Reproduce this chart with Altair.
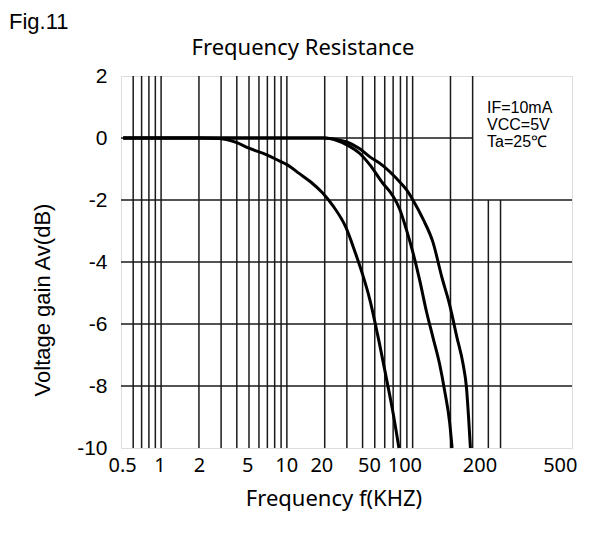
import altair as alt
import pandas as pd

# ---- curve data (frequency kHz, voltage gain dB) ----
freq_a = [0.5, 1, 2, 2.9, 4, 5, 7, 8.7, 10, 12.6, 15.5, 19.1, 23.2, 29.6, 35, 40, 45.4, 54.6, 61.7, 69.7, 77.8]
gain_a = [0, 0, 0, -0.02, -0.15, -0.33, -0.55, -0.74, -0.86, -1.15, -1.42, -1.76, -2.18, -2.9, -3.7, -4.4, -5.17, -6.65, -7.73, -8.84, -10]

freq_b = [0.5, 20, 25, 30, 38, 45.4, 58, 69.7, 78.8, 89, 100.5, 114, 128.5, 145, 164, 180, 197, 206]
gain_b = [0, 0, -0.08, -0.22, -0.5, -0.85, -1.46, -1.87, -2.29, -2.94, -3.69, -4.6, -5.58, -6.43, -7.3, -8.17, -9.18, -10]

freq_c = [0.5, 20, 25, 30, 38, 45.4, 58, 74.2, 89, 100.5, 120.8, 145, 171, 197, 225, 252, 268, 279, 288]
gain_c = [0, 0, -0.05, -0.13, -0.35, -0.6, -0.89, -1.30, -1.66, -2.0, -2.61, -3.36, -4.5, -5.38, -6.43, -7.3, -8.05, -9.06, -10]

# ---- axis tick labels (as printed on the figure) ----
x_label_text = ["0.5", "1", "2", "5", "10", "20", "50", "100", "200", "500"]
x_label_pos = [0.49, 0.97, 2.0, 4.85, 9.9, 18.8, 45, 86, 340, 1480]
y_ticks = [-10, -8, -6, -4, -2, 0, 2]

# ---- grid lines ----
v_grid_full = [0.6, 0.7, 0.8, 0.9, 1, 2, 3, 4, 5, 6, 7, 8, 9,
               10, 20, 30, 40, 50, 60, 70, 80, 90, 100, 200, 300]
v_grid_low = [400, 500]
h_grid_full = [-2, -4, -6, -8]
h_grid_zero_end = 300

X_MIN, X_MAX = 0.48, 1850
Y_MIN, Y_MAX = -10, 2

xs = alt.Scale(type="log", domain=[X_MIN, X_MAX], nice=False, zero=False)
ys = alt.Scale(domain=[Y_MIN, Y_MAX], nice=False, zero=False)

rows = []
for f, g in zip(freq_a, gain_a):
    rows.append({"f": f, "g": g, "s": "A"})
for f, g in zip(freq_b, gain_b):
    rows.append({"f": f, "g": g, "s": "B"})
for f, g in zip(freq_c, gain_c):
    rows.append({"f": f, "g": g, "s": "C"})
curves_df = pd.DataFrame(rows)

vrows = [{"f": v, "g": Y_MIN, "y2": Y_MAX} for v in v_grid_full] + \
        [{"f": v, "g": Y_MIN, "y2": -2} for v in v_grid_low]
vgrid_df = pd.DataFrame(vrows)

hrows = [{"g": h, "f": X_MIN, "x2": X_MAX} for h in h_grid_full] + \
        [{"g": 0, "f": X_MIN, "x2": h_grid_zero_end}]
hgrid_df = pd.DataFrame(hrows)

label_expr = "[" + ",".join("'%s'" % t for t in x_label_text) + "][indexof([" + \
    ",".join(str(p) for p in x_label_pos) + "], datum.value)]"

x_axis = alt.Axis(
    values=x_label_pos, labelExpr=label_expr, grid=False, ticks=False, domain=False,
    labelFontSize=20, labelFont="Noto Sans", labelColor="black", labelPadding=7,
    labelFlush=False, labelOverlap=False, title=None)
y_axis = alt.Axis(
    values=y_ticks, labelExpr="'' + datum.value", grid=False, ticks=False, domain=False,
    labelFontSize=21, labelFont="Liberation Sans", labelColor="black", labelPadding=14,
    labelFlush=False, labelOverlap=False, title=None)

X = alt.X("f:Q", scale=xs, axis=x_axis)
Y = alt.Y("g:Q", scale=ys, axis=y_axis)

grid_color = "#1a1a1a"

vgrid = alt.Chart(vgrid_df).mark_rule(color=grid_color, strokeWidth=1.5).encode(
    x=X, y=Y, y2="y2:Q")
hgrid = alt.Chart(hgrid_df).mark_rule(color=grid_color, strokeWidth=1.5).encode(
    x=X, x2="x2:Q", y=Y)

curves = alt.Chart(curves_df).mark_line(strokeWidth=3, interpolate="monotone", color="black").encode(
    x=X, y=Y, detail="s:N", order="f:Q")


def text_mark(txt, x, y, size, font, align="left", angle=0, baseline="alphabetic", line_height=None):
    kw = dict(fontSize=size, font=font, align=align, baseline=baseline, color="black")
    if angle:
        kw["angle"] = angle
    if line_height:
        kw["lineBreak"] = "\n"
        kw["lineHeight"] = line_height
    return alt.Chart(pd.DataFrame({"t": [txt]})).mark_text(**kw).encode(
        text="t:N", x=alt.value(x), y=alt.value(y))


fig_label = text_mark("Fig.11", -112, -47, 22, "Liberation Sans")
title = text_mark("Frequency Resistance", 182, -21, 22, "Noto Sans", align="center")
x_title = text_mark("Frequency f(KHZ)", 213, 430, 22, "Noto Sans", align="center")
y_title = text_mark("Voltage gain Av(dB)", -78, 224, 22, "Liberation Sans", align="center",
                    angle=270, baseline="middle")
note = text_mark("IF=10mA\nVCC=5V\nTa=25℃", 366, 37, 16, "Liberation Sans", line_height=17)

chart = alt.layer(vgrid, hgrid, curves, fig_label, title, x_title, y_title, note).properties(
    width=451, height=372,
    autosize=alt.AutoSizeParams(type="none"),
    padding={"left": 113, "top": 68, "right": 12, "bottom": 87},
).configure_view(stroke="#333333", strokeWidth=2).configure(background="white")

chart.save("out.html", embed_options={"renderer": "svg", "actions": False})
